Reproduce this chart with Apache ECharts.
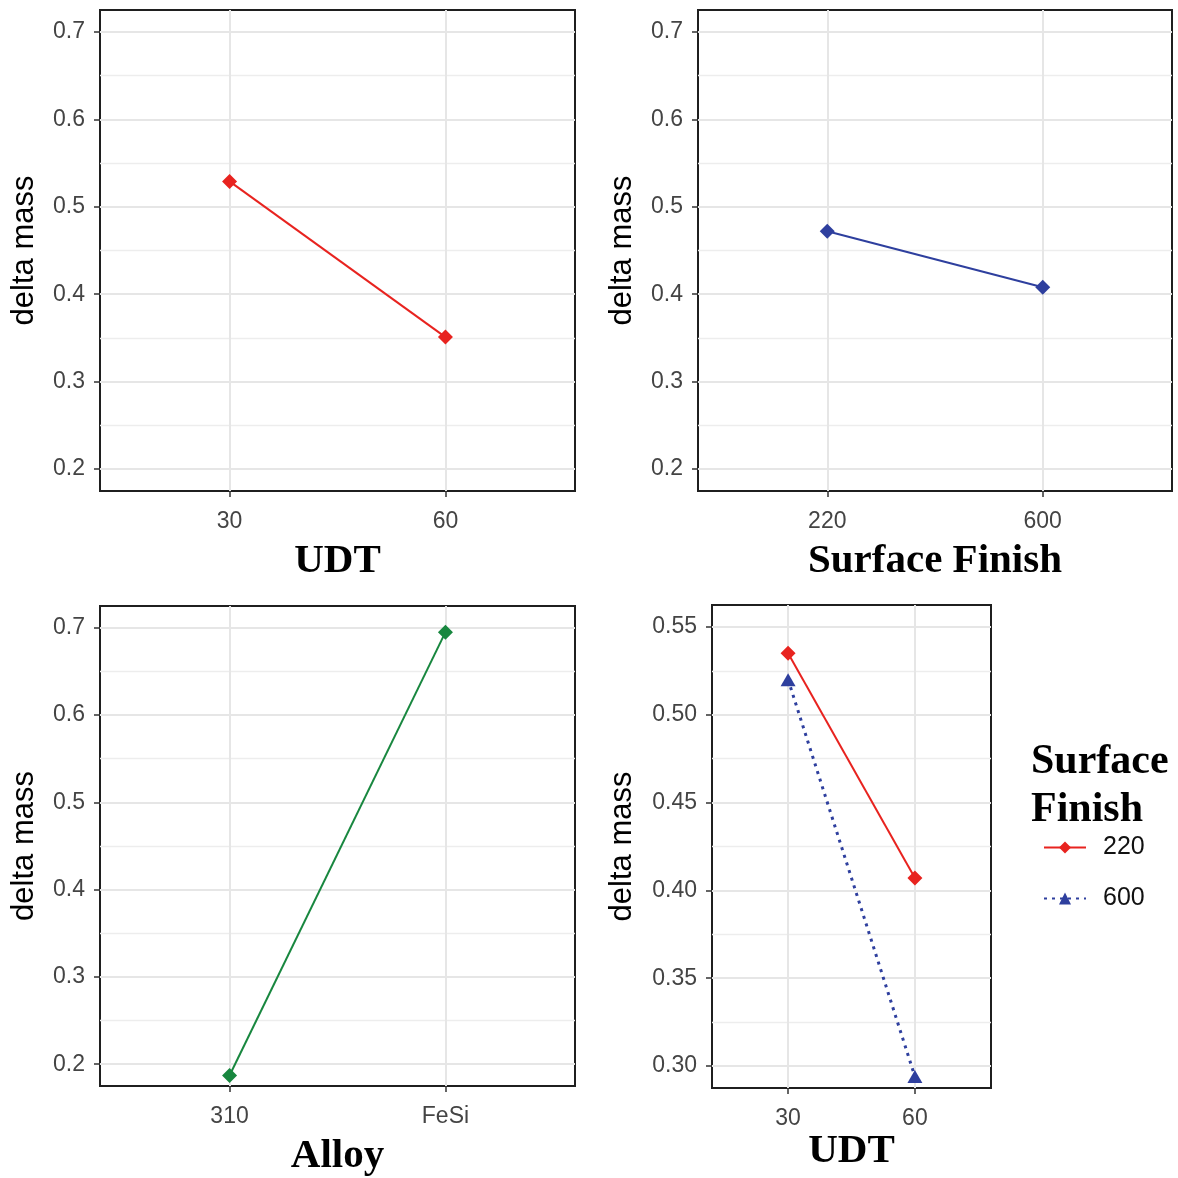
<!DOCTYPE html>
<html><head><meta charset="utf-8">
<script src="https://cdn.jsdelivr.net/npm/echarts@6/dist/echarts.min.js"></script>
<style>html,body{margin:0;padding:0;background:#fff}#c{width:1178px;height:1178px}</style>
</head><body><div id="c"></div>
<script>
// ---- data ----
const udtCats = ['30', '60'];
const udtMeans = [0.529, 0.351];
const finishCats = ['220', '600'];
const finishMeans = [0.472, 0.408];
const alloyCats = ['310', 'FeSi'];
const alloyMeans = [0.187, 0.695];
const interCats = ['30', '60'];
const inter220 = [0.535, 0.407];
const inter600 = [0.520, 0.294];
const legendNames = ['220', '600'];
const yTicksMain = [0.2, 0.3, 0.4, 0.5, 0.6, 0.7];
const yMinorMain = [0.25, 0.35, 0.45, 0.55, 0.65];
const yTicksInter = [0.30, 0.35, 0.40, 0.45, 0.50, 0.55];
const yMinorInter = [0.325, 0.375, 0.425, 0.475, 0.525];

// ---- styling ----
const RED = '#E8231F', BLUE = '#2E3F9E', GREEN = '#18873F';
const SANS = '"Liberation Sans", Arial, sans-serif';
const SERIF = '"Liberation Serif", "Times New Roman", serif';
const grids = [
  {left: 100, top: 10, width: 475, height: 481},
  {left: 698, top: 10, width: 474, height: 481},
  {left: 100, top: 606, width: 475, height: 482},
  {left: 712, top: 605, width: 279, height: 483}
];
const xNames = ['UDT', 'Surface Finish', 'Alloy', 'UDT'];
const xCats = [udtCats, finishCats, alloyCats, interCats];
const xGaps = [50, 50, 50, 43];
const yGaps = [60, 60, 60, 74];

function ext(t) { const lo = t[0], hi = t[t.length - 1], e = (hi - lo) * 0.05; return [lo - e, hi + e]; }

const gridOpts = grids.map(g => Object.assign({show: true, borderColor: '#1f1f1f', borderWidth: 2, backgroundColor: 'transparent'}, g));

const xAxes = xCats.map((cats, i) => ({
  type: 'value', gridIndex: i, min: -0.6, max: 1.6, position: 'bottom',
  name: xNames[i], nameLocation: 'middle', nameGap: xGaps[i],
  nameTextStyle: {fontFamily: SERIF, fontWeight: 'bold', fontSize: 41, color: '#000'},
  axisLine: {show: false, onZero: false},
  axisTick: {show: true, length: 6, lineStyle: {color: '#333', width: 1.5}, customValues: [0, 1]},
  axisLabel: {customValues: [0, 1], formatter: v => cats[Math.round(v)], fontFamily: SANS, fontSize: 23, color: '#444', margin: 19},
  splitLine: {show: true, lineStyle: {color: '#E6E6E6', width: 2}}
}));

const yMajor = [0, 1, 2, 3].map(i => {
  const t = i === 3 ? yTicksInter : yTicksMain;
  const [mn, mx] = ext(t);
  return {
    type: 'value', gridIndex: i, min: mn, max: mx, position: 'left',
    name: 'delta mass', nameLocation: 'middle', nameGap: yGaps[i],
    nameTextStyle: {fontFamily: SANS, fontSize: 31, color: '#000'},
    axisLine: {show: false, onZero: false},
    axisTick: {show: true, length: 6, lineStyle: {color: '#333', width: 1.5}, customValues: t},
    axisLabel: {customValues: t, formatter: v => v.toFixed(i === 3 ? 2 : 1), fontFamily: SANS, fontSize: 23, color: '#444', margin: 15},
    splitLine: {show: true, lineStyle: {color: '#E6E6E6', width: 2}}
  };
});
const yMinor = [0, 1, 2, 3].map(i => {
  const t = i === 3 ? yTicksInter : yTicksMain;
  const m = i === 3 ? yMinorInter : yMinorMain;
  const [mn, mx] = ext(t);
  return {
    type: 'value', gridIndex: i, min: mn, max: mx, position: 'left',
    axisLine: {show: false, onZero: false}, axisTick: {show: false, customValues: m},
    axisLabel: {show: false, customValues: m},
    splitLine: {show: true, lineStyle: {color: '#EDEDED', width: 1.3}}
  };
});

function pts(vals) { return vals.map((v, k) => [k, v]); }
function lineSeries(name, idx, vals, color, symbol, size, dash) {
  return {
    type: 'line', name, xAxisIndex: idx, yAxisIndex: idx, data: pts(vals),
    symbol, symbolSize: size, clip: false, z: 5,
    itemStyle: {color},
    lineStyle: {color, width: dash ? 3 : 2, type: dash ? [3, 5] : 'solid'},
    emphasis: {disabled: true}, animation: false
  };
}

const option = {
  backgroundColor: '#fff',
  animation: false,
  grid: gridOpts,
  xAxis: xAxes,
  yAxis: yMajor.concat(yMinor),
  legend: {
    data: legendNames, orient: 'vertical', left: 1043, top: 835, padding: 0,
    itemWidth: 42, itemHeight: 15, itemGap: 26,
    textStyle: {fontFamily: SANS, fontSize: 25, color: '#111', padding: [0, 0, 0, 12]}
  },
  graphic: [{
    type: 'text', left: 1031, top: 738,
    style: {text: 'Surface\nFinish', font: 'bold 42px ' + SERIF, lineHeight: 48, fill: '#000'}
  }],
  series: [
    lineSeries('UDT', 0, udtMeans, RED, 'diamond', 15, false),
    lineSeries('Surface Finish', 1, finishMeans, BLUE, 'diamond', 15, false),
    lineSeries('Alloy', 2, alloyMeans, GREEN, 'diamond', 15, false),
    lineSeries(legendNames[0], 3, inter220, RED, 'diamond', 15, false),
    lineSeries(legendNames[1], 3, inter600, BLUE, 'triangle', [15, 13], true)
  ]
};
const chart = echarts.init(document.getElementById('c'), null, {renderer: 'canvas'});
chart.setOption(option);
</script></body></html>
